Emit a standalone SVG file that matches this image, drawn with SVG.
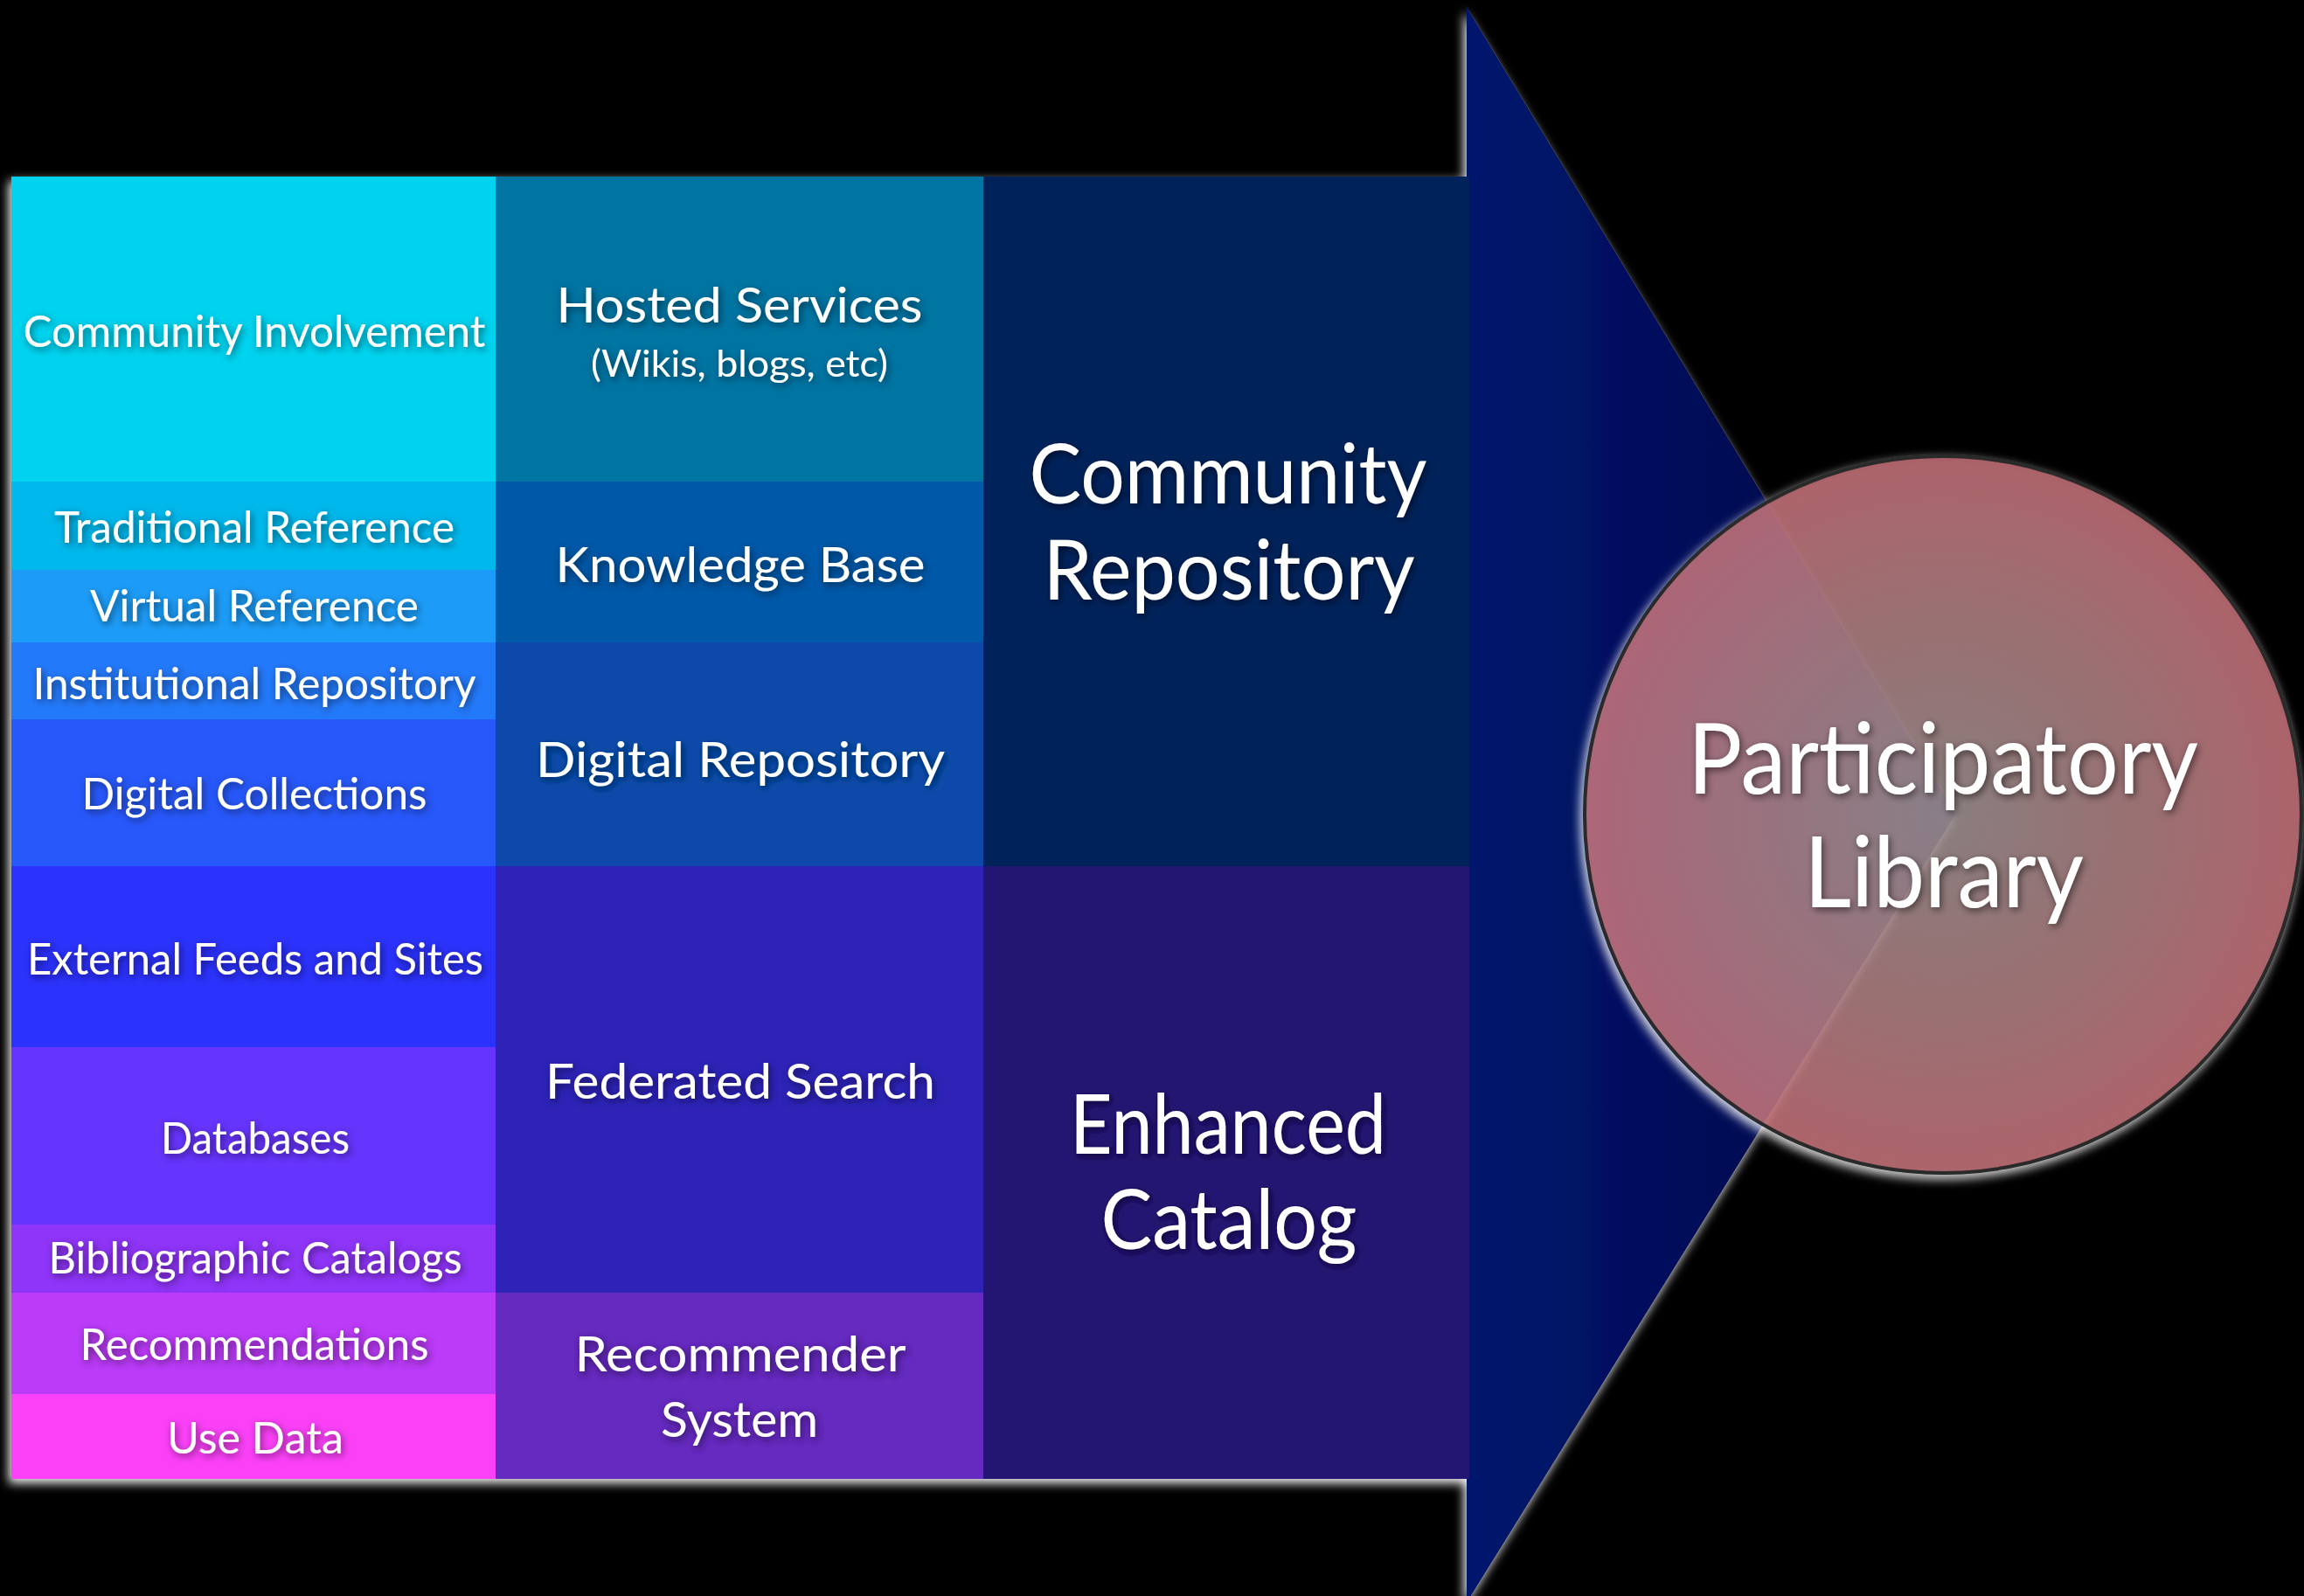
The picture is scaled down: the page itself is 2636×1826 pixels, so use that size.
<svg xmlns="http://www.w3.org/2000/svg" width="2636" height="1826" viewBox="0 0 2636 1826">
<defs>
<style>
text{font-family:Lato,"Open Sans","Liberation Sans",sans-serif;fill:#ffffff;text-anchor:middle;filter:url(#ts)}
.s1{font-size:50px}
.s2{font-size:57px}
.s2b{font-size:43px}
.s3{font-size:95px}
.s4{font-size:112px}
</style>
<filter id="glow" x="-5%" y="-5%" width="110%" height="110%">
<feGaussianBlur in="SourceAlpha" stdDeviation="6" result="b"/>
<feOffset in="b" dx="-3" dy="5" result="o"/>
<feFlood flood-color="#ffffff" flood-opacity="0.95"/>
<feComposite in2="o" operator="in" result="g"/>
<feMerge><feMergeNode in="g"/><feMergeNode in="SourceGraphic"/></feMerge>
</filter>
<filter id="glowout" x="-5%" y="-5%" width="110%" height="110%">
<feFlood flood-color="#ffffff" flood-opacity="1" result="a1"/>
<feComposite in="a1" in2="SourceAlpha" operator="in" result="solid"/>
<feGaussianBlur in="solid" stdDeviation="6" result="b"/>
<feOffset in="b" dx="-3" dy="5" result="o"/>
<feComposite in="o" in2="solid" operator="out" result="g"/>
<feColorMatrix in="g" type="matrix" values="1 0 0 0 0  0 1 0 0 0  0 0 1 0 0  0 0 0 0.95 0" result="g2"/>
<feMerge><feMergeNode in="g2"/><feMergeNode in="SourceGraphic"/></feMerge>
</filter>
<filter id="ts" x="-10%" y="-40%" width="120%" height="180%">
<feGaussianBlur in="SourceAlpha" stdDeviation="4" result="b"/>
<feOffset in="b" dx="2" dy="3" result="o"/>
<feFlood flood-color="#000000" flood-opacity="0.55"/>
<feComposite in2="o" operator="in" result="s"/>
<feMerge><feMergeNode in="s"/><feMergeNode in="SourceGraphic"/></feMerge>
</filter>
<linearGradient id="tri" x1="1678" y1="0" x2="2238" y2="0" gradientUnits="userSpaceOnUse">
<stop offset="0" stop-color="#00166e"/>
<stop offset="1" stop-color="#000540"/>
</linearGradient>
<radialGradient id="circ" cx="2223" cy="932" r="410" gradientUnits="userSpaceOnUse">
<stop offset="0" stop-color="#9c8f8f"/>
<stop offset="0.55" stop-color="#af7d80"/>
<stop offset="1" stop-color="#c56e76"/>
</radialGradient>
</defs>
<rect x="0" y="0" width="2636" height="1826" fill="#000000"/>
<g filter="url(#glow)">
<g id="connectors">
<polygon id="arrow" points="1678,8 2238,931 1678,1834" fill="url(#tri)"/>
</g>
<g id="col1">
<g id="community-involvement"><rect x="13" y="202" width="554" height="349" fill="#00d3ef"/><text class="s1" x="291" y="397" textLength="529" lengthAdjust="spacingAndGlyphs">Community Involvement</text></g>
<g id="traditional-reference"><rect x="13" y="551" width="554" height="101" fill="#01b8ec"/><text class="s1" x="291" y="621" textLength="458" lengthAdjust="spacingAndGlyphs">Traditional Reference</text></g>
<g id="virtual-reference"><rect x="13" y="652" width="554" height="83" fill="#1c9cf8"/><text class="s1" x="291" y="711" textLength="376" lengthAdjust="spacingAndGlyphs">Virtual Reference</text></g>
<g id="institutional-repository"><rect x="13" y="735" width="554" height="88" fill="#2479fa"/><text class="s1" x="291" y="800" textLength="507" lengthAdjust="spacingAndGlyphs">Institutional Repository</text></g>
<g id="digital-collections"><rect x="13" y="823" width="554" height="168" fill="#2858fa"/><text class="s1" x="291" y="926" textLength="395" lengthAdjust="spacingAndGlyphs">Digital Collections</text></g>
<g id="external-feeds"><rect x="13" y="991" width="554" height="207" fill="#2b31fb"/><text class="s1" x="292" y="1115" textLength="522" lengthAdjust="spacingAndGlyphs">External Feeds and Sites</text></g>
<g id="databases"><rect x="13" y="1198" width="554" height="203" fill="#6634fd"/><text class="s1" x="292" y="1320" textLength="216" lengthAdjust="spacingAndGlyphs">Databases</text></g>
<g id="bibliographic-catalogs"><rect x="13" y="1401" width="554" height="78" fill="#8e34f8"/><text class="s1" x="292" y="1457" textLength="473" lengthAdjust="spacingAndGlyphs">Bibliographic Catalogs</text></g>
<g id="recommendations"><rect x="13" y="1479" width="554" height="116" fill="#bb3af8"/><text class="s1" x="291" y="1556" textLength="399" lengthAdjust="spacingAndGlyphs">Recommendations</text></g>
<g id="use-data"><rect x="13" y="1595" width="554" height="97" fill="#fb40f8"/><text class="s1" x="292" y="1663" textLength="202" lengthAdjust="spacingAndGlyphs">Use Data</text></g>
</g>
<g id="col2">
<g id="hosted-services"><rect x="567" y="202" width="558" height="349" fill="#0074a2"/><text class="s2" x="846" y="369" textLength="419" lengthAdjust="spacingAndGlyphs">Hosted Services</text><text class="s2b" x="846" y="431" textLength="340" lengthAdjust="spacingAndGlyphs">(Wikis, blogs, etc)</text></g>
<g id="knowledge-base"><rect x="567" y="551" width="558" height="184" fill="#0458a8"/><text class="s2" x="847" y="666" textLength="423" lengthAdjust="spacingAndGlyphs">Knowledge Base</text></g>
<g id="digital-repository"><rect x="567" y="735" width="558" height="256" fill="#074aaa"/><text class="s2" x="847" y="889" textLength="468" lengthAdjust="spacingAndGlyphs">Digital Repository</text></g>
<g id="federated-search"><rect x="567" y="991" width="558" height="488" fill="#2d23b7"/><text class="s2" x="847" y="1257" textLength="446" lengthAdjust="spacingAndGlyphs">Federated Search</text></g>
<g id="recommender-system"><rect x="567" y="1479" width="558" height="213" fill="#6529bf"/><text class="s2" x="847" y="1569" textLength="379" lengthAdjust="spacingAndGlyphs">Recommender</text><text class="s2" x="846" y="1644" textLength="180" lengthAdjust="spacingAndGlyphs">System</text></g>
</g>
<g id="col3">
<g id="community-repository"><rect x="1125" y="202" width="556" height="789" fill="#01225a"/><text class="s3" x="1405" y="576" textLength="455" lengthAdjust="spacingAndGlyphs">Community</text><text class="s3" x="1406" y="686" textLength="425" lengthAdjust="spacingAndGlyphs">Repository</text></g>
<g id="enhanced-catalog"><rect x="1125" y="991" width="556" height="701" fill="#221372"/><text class="s3" x="1405" y="1320" textLength="362" lengthAdjust="spacingAndGlyphs">Enhanced</text><text class="s3" x="1406" y="1429" textLength="293" lengthAdjust="spacingAndGlyphs">Catalog</text></g>
</g>
</g>
<g id="participatory-library">
<circle cx="2223" cy="932" r="410" fill="url(#circ)" fill-opacity="0.85" stroke="#2a2a2a" stroke-width="4" filter="url(#glowout)"/>
<text class="s4" x="2223" y="908" textLength="584" lengthAdjust="spacingAndGlyphs">Participatory</text>
<text class="s4" x="2224" y="1038" textLength="320" lengthAdjust="spacingAndGlyphs">Library</text>
</g>
</svg>
